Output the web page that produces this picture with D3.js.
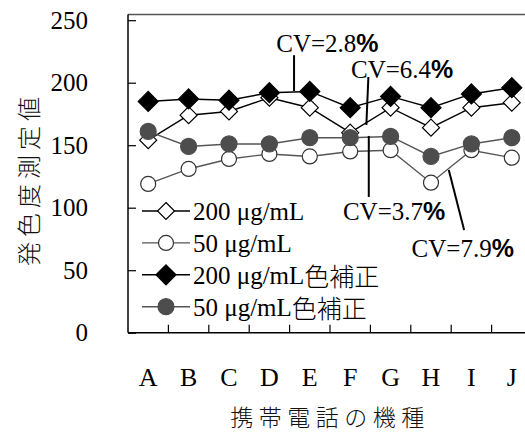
<!DOCTYPE html>
<html>
<head>
<meta charset="utf-8">
<script src="https://cdn.jsdelivr.net/npm/d3@7"></script>
<style>
  html, body { margin: 0; padding: 0; background: #fff; }
  svg { display: block; }
  .serif { font-family: "Liberation Serif", "Times New Roman", serif; }
  .cjk { font-family: "Noto Sans CJK JP", sans-serif; font-weight: 300; }
</style>
</head>
<body>
<div id="chart"></div>
<script>
// categories (phone models) and the four measured series
const models = ["A", "B", "C", "D", "E", "F", "G", "H", "I", "J"];
const d200 = [154, 174, 177, 188, 180, 160, 180, 164, 180, 184];
const d50 = [119, 131, 139, 143, 141, 145, 146, 120, 146, 140];
const d200c = [185, 187, 186, 192, 193, 180, 189, 180, 191, 196];
const d50c = [161, 149, 151, 151, 156, 156, 157, 141, 151, 156];
const yTicks = [0, 50, 100, 150, 200, 250];

// CV callouts: text anchor and leader line, in (category index, value) units
const notes = [
  { label: "CV=2.8", tx: 3.17, ty: 224.6, x1: 3.61, y1: 222, x2: 3.61, y2: 193.3 },
  { label: "CV=6.4", tx: 5.02, ty: 203.8, x1: 5.45, y1: 204.6, x2: 5.40, y2: 166.2 },
  { label: "CV=3.7", tx: 4.82, ty: 90.2, x1: 5.46, y1: 157.4, x2: 5.46, y2: 108.6 },
  { label: "CV=7.9", tx: 6.52, ty: 60.6, x1: 7.44, y1: 130.2, x2: 7.82, y2: 82.2 },
];

const series = [
  { name: "200 μg/mL", tag: "", values: d200, shape: "diamond", size: 8.5, fill: "#fff", line: "#000" },
  { name: "50 μg/mL", tag: "", values: d50, shape: "circle", size: 7.5, fill: "#fff", line: "#555" },
  { name: "200 μg/mL", tag: "色補正", values: d200c, shape: "diamond", size: 10, fill: "#000", line: "#000" },
  { name: "50 μg/mL", tag: "色補正", values: d50c, shape: "circle", size: 8, fill: "#4d4d4d", line: "#555" },
];

const W = 525, H = 435;
const L = 128, R = 532, T = 14.5, B = 332.7;

const svg = d3.select("#chart").append("svg").attr("width", W).attr("height", H);

const x = d3.scaleBand().domain(models).range([L, R]);
const xi = (i) => L + x.bandwidth() * (i + 0.5); // fractional category index -> px
const y = d3.scaleLinear().domain([0, 250]).range([B, B - 250 * 1.25]);

// top frame line
svg.append("line").attr("x1", L).attr("x2", W).attr("y1", T).attr("y2", T)
  .attr("stroke", "#555").attr("stroke-width", 1.5);

// y axis, ticks pointing inward
const ya = svg.append("g").attr("transform", `translate(${L},0)`)
  .call(d3.axisLeft(y).tickValues(yTicks).tickSizeInner(-8).tickSizeOuter(0).tickPadding(40));
ya.select(".domain").attr("stroke", "#000").attr("stroke-width", 1.5).attr("d", `M0,${B}V${T}`);
ya.selectAll(".tick line").attr("stroke", "#000").attr("stroke-width", 1.2);
ya.selectAll(".tick text").attr("class", "serif").attr("font-size", 25).attr("fill", "#000");

// x axis: labels at band centres, tick marks on band boundaries
const xa = svg.append("g").attr("transform", `translate(0,${B})`)
  .call(d3.axisBottom(x).tickSize(0).tickPadding(35));
xa.select(".domain").attr("stroke", "#000").attr("stroke-width", 1.5).attr("d", `M${L},0H${W}`);
xa.selectAll(".tick text").attr("class", "serif").attr("font-size", 26).attr("fill", "#000");
svg.append("g").selectAll("line").data(models.slice(1)).join("line")
  .attr("x1", (d) => x(d)).attr("x2", (d) => x(d))
  .attr("y1", B).attr("y2", B - 8)
  .attr("stroke", "#000").attr("stroke-width", 1.2);

// axis titles
svg.append("text").attr("class", "cjk")
  .attr("transform", "translate(27,179) rotate(-90)")
  .attr("text-anchor", "middle").attr("dominant-baseline", "central")
  .attr("font-size", 24).attr("letter-spacing", 5).attr("fill", "#111")
  .text("発色度測定値");
svg.append("text").attr("class", "cjk")
  .attr("x", 330).attr("y", 416)
  .attr("text-anchor", "middle").attr("dominant-baseline", "central")
  .attr("font-size", 23).attr("letter-spacing", 5.5).attr("fill", "#111")
  .text("携帯電話の機種");

const diamond = (r) => `M0,${-r}L${r},0L0,${r}L${-r},0Z`;

function marker(g, s) {
  if (s.shape === "diamond") {
    g.append("path").attr("d", diamond(s.size))
      .attr("fill", s.fill).attr("stroke", "#000").attr("stroke-width", 1.2);
  } else {
    g.append("circle").attr("r", s.size)
      .attr("fill", s.fill).attr("stroke", s.fill === "#fff" ? "#333" : s.fill).attr("stroke-width", 1.2);
  }
}

const line = d3.line().x((d, i) => x(models[i]) + x.bandwidth() / 2).y((d) => y(d));

series.forEach((s) => {
  const g = svg.append("g");
  g.append("path").attr("d", line(s.values))
    .attr("fill", "none").attr("stroke", s.line).attr("stroke-width", 1.4);
  s.values.forEach((v, i) => {
    const m = g.append("g").attr("transform", `translate(${x(models[i]) + x.bandwidth() / 2},${y(v)})`);
    marker(m, s);
  });
});

// legend
const legend = svg.append("g");
series.forEach((s, i) => {
  const row = legend.append("g").attr("transform", `translate(0,${211 + i * 31.9})`);
  row.append("line").attr("x1", 142).attr("x2", 190).attr("stroke", s.line).attr("stroke-width", 1.4);
  marker(row.append("g").attr("transform", "translate(166,0)"), s);
  const t = row.append("text").attr("x", 193).attr("dominant-baseline", "central").attr("font-size", 25).attr("fill", "#000");
  t.append("tspan").attr("class", "serif").text(s.name);
  if (s.tag) t.append("tspan").attr("class", "cjk").text(s.tag);
});

// CV callouts
const ann = svg.append("g");
notes.forEach((n) => {
  ann.append("line")
    .attr("x1", xi(n.x1)).attr("y1", y(n.y1)).attr("x2", xi(n.x2)).attr("y2", y(n.y2))
    .attr("stroke", "#000").attr("stroke-width", 2);
  const t = ann.append("text").attr("x", xi(n.tx)).attr("y", y(n.ty)).attr("font-size", 25).attr("fill", "#000");
  t.append("tspan").attr("class", "serif").text(n.label);
  t.append("tspan").attr("font-family", "Liberation Sans, Arial, sans-serif").attr("font-weight", "bold").text("%");
});
</script>
</body>
</html>
